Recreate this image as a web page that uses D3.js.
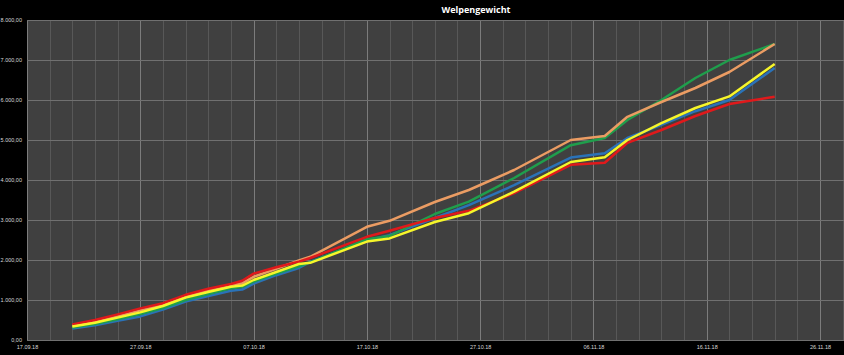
<!DOCTYPE html>
<html>
<head>
<meta charset="utf-8">
<script src="https://cdn.jsdelivr.net/npm/d3@7"></script>
<style>
  body { margin: 0; background: #000; }
  svg { display: block; font-family: "Open Sans", "Liberation Sans", sans-serif; }
</style>
</head>
<body>
<div id="container"></div>
<script>
/* DATA */
var dates = ["21.09.18","23.09.18","25.09.18","27.09.18","29.09.18","01.10.18","03.10.18","05.10.18","06.10.18","07.10.18",
             "09.10.18","11.10.18","12.10.18","17.10.18","19.10.18","23.10.18","26.10.18","30.10.18","04.11.18","07.11.18",
             "09.11.18","12.11.18","15.11.18","18.11.18","22.11.18"];

var blau   = [290, 370, 480, 590, 760, 960, 1100, 1230, 1260, 1410, 1620, 1800, 1950, 2490, 2620, 3050, 3370, 3870, 4560, 4670, 5050, 5380, 5720, 6000, 6800];
var gruen  = [310, 400, 520, 650, 800, 1000, 1150, 1290, 1330, 1460, 1660, 1840, 1940, 2520, 2600, 3150, 3460, 4050, 4870, 5050, 5500, 6000, 6550, 7000, 7400];
var orange = [360, 450, 590, 740, 880, 1080, 1250, 1380, 1420, 1580, 1780, 1990, 2080, 2830, 2980, 3450, 3750, 4250, 5000, 5100, 5580, 5950, 6300, 6700, 7400];
var rot    = [390, 500, 640, 790, 920, 1130, 1280, 1400, 1480, 1660, 1820, 1960, 2050, 2580, 2730, 3050, 3230, 3670, 4380, 4430, 4930, 5250, 5600, 5900, 6080];
var gelb   = [340, 430, 560, 690, 850, 1060, 1200, 1330, 1360, 1500, 1700, 1900, 1930, 2460, 2540, 2950, 3170, 3710, 4450, 4570, 5000, 5420, 5800, 6090, 6900];

var series = [
  { name: "blau",   values: blau,   color: "#2a72b8" },
  { name: "gruen",  values: gruen,  color: "#1f9e4c" },
  { name: "orange", values: orange, color: "#eb9c63" },
  { name: "rot",    values: rot,    color: "#e0191b" },
  { name: "gelb",   values: gelb,   color: "#f6f62a" }
];

var yTicks = [0, 1000, 2000, 3000, 4000, 5000, 6000, 7000, 8000];

/* CONSTANTS */
var width = 844, height = 355;
var plotLeft = 27, plotTop = 20, plotBottom = 340;

var parse = d3.timeParse("%d.%m.%y");
var fmtDate = d3.timeFormat("%d.%m.%y");
var de = d3.formatLocale({ decimal: ",", thousands: ".", grouping: [3], currency: ["", " €"] });
var fmtNum = de.format(",.2f");

var start = parse("17.09.18"), end = parse("26.11.18");

/* SCALES */
var x = d3.scaleTime().domain([start, end]).range([plotLeft, 820]);
var y = d3.scaleLinear().domain([0, 8000]).range([plotBottom, plotTop]);

var svg = d3.select("#container").append("svg")
  .attr("width", width)
  .attr("height", height)
  .style("background", "#000");

svg.append("rect")
  .attr("x", plotLeft).attr("y", plotTop)
  .attr("width", width - plotLeft).attr("height", plotBottom - plotTop)
  .attr("fill", "#404040");

// vertical gridlines every 2 days, stronger every 10 days
var days = d3.timeDay.range(start, d3.timeDay.offset(end, 3));
var grid = days.filter(function(d, i) { return i % 2 == 0; });
svg.append("g").selectAll("line").data(grid).enter().append("line")
  .attr("x1", function(d) { return Math.round(x(d)) + 0.5; })
  .attr("x2", function(d) { return Math.round(x(d)) + 0.5; })
  .attr("y1", plotTop).attr("y2", plotBottom)
  .attr("stroke", function(d) { return d3.timeDay.count(start, d) % 10 == 0 ? "#7c7c7c" : "#585858"; })
  .attr("stroke-width", 1);

svg.append("g").selectAll("line").data(yTicks).enter().append("line")
  .attr("x1", plotLeft).attr("x2", width)
  .attr("y1", function(d) { return Math.round(y(d)) + 0.5; })
  .attr("y2", function(d) { return Math.round(y(d)) + 0.5; })
  .attr("stroke", "#707070")
  .attr("stroke-width", 1);

/* AXES */
var yAxis = d3.axisLeft(y).tickValues(yTicks).tickFormat(fmtNum).tickSize(0).tickPadding(5);
svg.append("g").attr("transform", "translate(" + plotLeft + ",0)").call(yAxis)
  .call(function(g) { g.select(".domain").remove(); })
  .selectAll("text").attr("fill", "#d8d8d8").style("font-size", "5.5px");

var majors = days.filter(function(d, i) { return i % 10 == 0; });
var xAxis = d3.axisBottom(x).tickValues(majors).tickFormat(fmtDate).tickSize(0).tickPadding(5);
svg.append("g").attr("transform", "translate(0," + plotBottom + ")").call(xAxis)
  .call(function(g) { g.select(".domain").remove(); })
  .selectAll("text").attr("fill", "#d8d8d8").style("font-size", "5.5px");

/* LINES */
var line = d3.line()
  .x(function(d, i) { return x(parse(dates[i])); })
  .y(function(d) { return y(d); });

svg.append("g").selectAll("path").data(series).enter().append("path")
  .attr("d", function(s) { return line(s.values); })
  .attr("fill", "none")
  .attr("stroke", function(s) { return s.color; })
  .attr("stroke-width", 2.5)
  .attr("stroke-linejoin", "round");

/* TITLE */
svg.append("text")
  .attr("x", 476).attr("y", 13)
  .attr("text-anchor", "middle")
  .attr("fill", "#fff")
  .style("font-size", "9px")
  .style("font-weight", "bold")
  .text("Welpengewicht");
</script>
</body>
</html>
